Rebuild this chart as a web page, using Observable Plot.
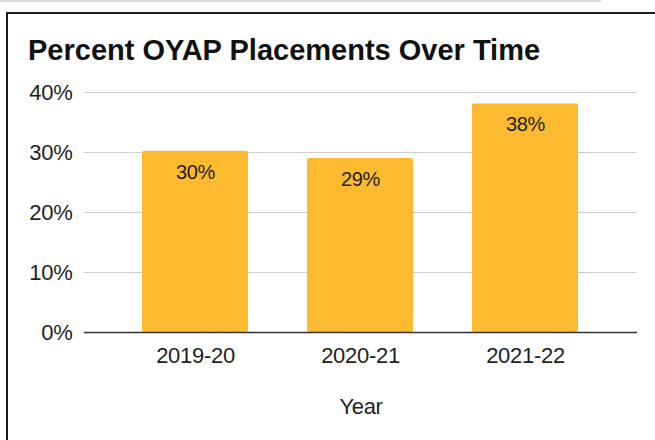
<!DOCTYPE html>
<html>
<head>
<meta charset="utf-8">
<script src="https://cdn.jsdelivr.net/npm/d3@7"></script>
<script src="https://cdn.jsdelivr.net/npm/@observablehq/plot@0.6"></script>
<style>
  html, body { margin: 0; padding: 0; background: #fff; overflow: hidden; width: 655px; height: 440px; }
  #wrap { position: relative; width: 655px; height: 440px; }
  #topline { position: absolute; left: 0; top: 0; width: 601px; height: 2px; background: #d8d8d8; }
  #frame { position: absolute; left: 6px; top: 12px; width: 720px; height: 520px; border: 2px solid #1a1a1a; box-sizing: border-box; }
  #title { position: absolute; left: 28px; top: 36px; font: bold 29px "Liberation Sans", Arial, sans-serif; line-height: 29px; color: #111; white-space: nowrap; }
  #chart { position: absolute; left: 0; top: 0; }
  #chart svg text { letter-spacing: -0.3px; }
</style>
</head>
<body>
<div id="wrap">
  <div id="topline"></div>
  <div id="frame"></div>
  <div id="chart"></div>
  <div id="title">Percent OYAP Placements Over Time</div>
</div>
<script>
const years = ["2019-20", "2020-21", "2021-22"];
const values = [30.2, 29.0, 38.1];
const valueLabels = ["30%", "29%", "38%"];
const yTicks = [0, 10, 20, 30, 40];
const xTitle = "Year";

const data = years.map((year, i) => ({ year, value: values[i], label: valueLabels[i] }));

const chart = Plot.plot({
  width: 655,
  height: 440,
  marginLeft: 84,
  marginRight: 18,
  marginTop: 92,
  marginBottom: 108,
  style: { fontFamily: "'Liberation Sans', Arial, sans-serif", fontSize: "22px", color: "#1f1f1f", background: "transparent" },
  x: { domain: years, paddingInner: 0.355, paddingOuter: 0.353, label: null },
  y: { domain: [0, 40], label: null },
  marks: [
    Plot.gridY(yTicks, { stroke: "#cfcfcf", strokeOpacity: 1, strokeWidth: 1.2 }),
    Plot.barY(data, { x: "year", y: "value", fill: "#FBBA2F", rx: 2 }),
    Plot.ruleY([0], { stroke: "#333", strokeWidth: 1.5 }),
    Plot.axisY(yTicks, { tickSize: 0, tickPadding: 12, tickFormat: d => d + "%", label: null, fontSize: 22 }),
    Plot.axisX({ tickSize: 0, tickPadding: 15, label: null, fontSize: 22 }),
    Plot.text(data, { x: "year", y: "value", text: "label", dy: 21, fontSize: 20, fill: "#1f1f1f" }),
    Plot.text([xTitle], { frameAnchor: "bottom", dy: 81, fontSize: 22, fill: "#1f1f1f" })
  ]
});
document.getElementById("chart").appendChild(chart);
</script>
</body>
</html>
